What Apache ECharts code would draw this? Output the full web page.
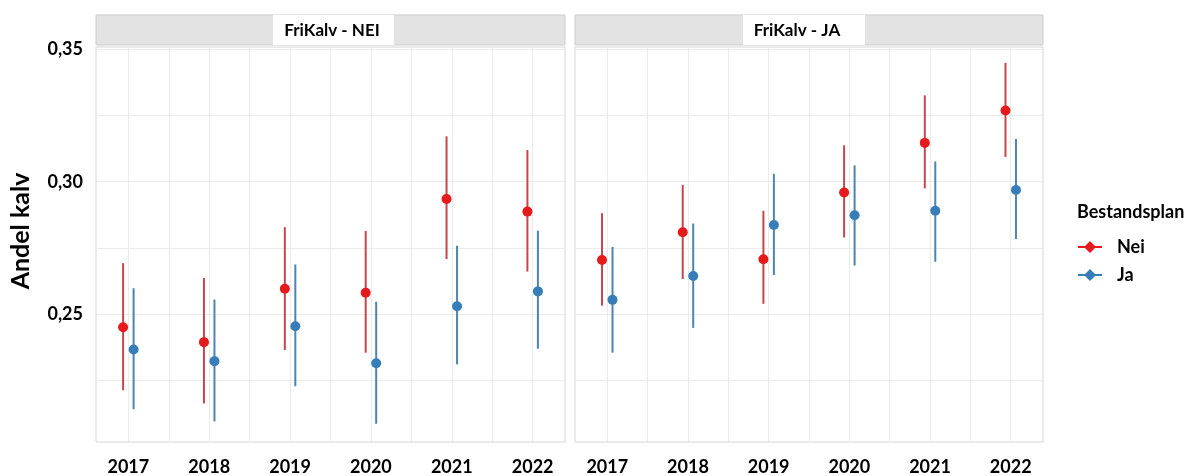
<!DOCTYPE html>
<html>
<head>
<meta charset="utf-8">
<script src="https://cdn.jsdelivr.net/npm/echarts@6/dist/echarts.min.js"></script>
<style>
  html, body { margin: 0; padding: 0; background: #fff; }
  #chart { width: 1190px; height: 476px; }
</style>
</head>
<body>
<div id="chart"></div>
<script>
const years = [2017, 2018, 2019, 2020, 2021, 2022]
const yTicks = [0.225, 0.25, 0.275, 0.3, 0.325, 0.35]
const yLabels = [0.25, 0.3, 0.35]
const panels = ['FriKalv - NEI', 'FriKalv - JA']
const groups = ['Nei', 'Ja']

// FriKalv - NEI
const neiNeiEst = [0.2449, 0.2393, 0.2595, 0.2580, 0.2935, 0.2887]
const neiNeiLow = [0.2211, 0.2161, 0.2363, 0.2353, 0.2707, 0.2660]
const neiNeiHigh = [0.2692, 0.2636, 0.2828, 0.2814, 0.3172, 0.3120]
const neiJaEst = [0.2365, 0.2321, 0.2453, 0.2313, 0.2529, 0.2585]
const neiJaLow = [0.2139, 0.2093, 0.2226, 0.2084, 0.2309, 0.2368]
const neiJaHigh = [0.2597, 0.2554, 0.2687, 0.2546, 0.2758, 0.2815]

// FriKalv - JA
const jaNeiEst = [0.2704, 0.2809, 0.2707, 0.2959, 0.3147, 0.3270]
const jaNeiLow = [0.2531, 0.2632, 0.2538, 0.2789, 0.2975, 0.3094]
const jaNeiHigh = [0.2881, 0.2988, 0.2890, 0.3138, 0.3327, 0.3450]
const jaJaEst = [0.2553, 0.2643, 0.2836, 0.2873, 0.2890, 0.2969]
const jaJaLow = [0.2353, 0.2447, 0.2647, 0.2683, 0.2697, 0.2783]
const jaJaHigh = [0.2753, 0.2842, 0.3030, 0.3062, 0.3077, 0.3162]

const FONT = 'Lato, "Open Sans", sans-serif'
const pointColors = { Nei: '#e41a1c', Ja: '#377eb8' }
const barColors = { Nei: '#c4474b', Ja: '#4c84b2' }
const dodge = { Nei: -0.065, Ja: 0.065 }
const legendIcon = 'path://M0,9 H7 L12,4 L17,9 H24 V11 H17 L12,16 L7,11 H0 Z'

const panelData = [
  { Nei: [neiNeiEst, neiNeiLow, neiNeiHigh], Ja: [neiJaEst, neiJaLow, neiJaHigh] },
  { Nei: [jaNeiEst, jaNeiLow, jaNeiHigh], Ja: [jaJaEst, jaJaLow, jaJaHigh] }
]

// gridlines at every year and half year
const xGrid = []
years.forEach(y => { xGrid.push(y - 0.5); xGrid.push(y) })

const grids = [
  { left: 96, width: 469, top: 47, height: 396 },
  { left: 575, width: 468, top: 47, height: 396 }
]

let xAxes = [], yAxes = [], series = [], graphics = []

grids.forEach((g, i) => {
  xAxes.push({
    type: 'value', gridIndex: i, min: 2016.6, max: 2022.4,
    axisLine: { show: false },
    axisTick: { show: false, customValues: xGrid },
    splitLine: { show: true, lineStyle: { color: '#ebebeb', width: 1 } },
    axisLabel: {
      customValues: years, margin: 16, color: '#000',
      fontFamily: FONT, fontWeight: 'bold', fontSize: 18,
      formatter: v => String(v)
    }
  })
  yAxes.push({
    type: 'value', gridIndex: i, min: 0.2015, max: 0.351,
    axisLine: { show: false },
    axisTick: { show: false, customValues: yTicks },
    splitLine: { show: true, lineStyle: { color: '#ebebeb', width: 1 } },
    axisLabel: {
      show: i === 0, customValues: yLabels, margin: 13, color: '#000',
      fontFamily: FONT, fontWeight: 'bold', fontSize: 18,
      formatter: v => v.toFixed(2).replace('.', ',')
    }
  })

  groups.forEach(name => {
    let [est, low, high] = panelData[i][name]
    series.push({
      name: name, type: 'scatter', xAxisIndex: i, yAxisIndex: i,
      symbol: 'circle', symbolSize: 10, z: 5,
      itemStyle: { color: pointColors[name], opacity: 1 },
      data: years.map((y, k) => [y + dodge[name], est[k]])
    })
  })
  groups.forEach(name => {
    let [est, low, high] = panelData[i][name]
    series.push({
      name: name, type: 'custom', xAxisIndex: i, yAxisIndex: i, z: 3,
      encode: { x: 0, y: [1, 2] },
      data: years.map((y, k) => [y + dodge[name], low[k], high[k]]),
      renderItem: (params, api) => {
        let p1 = api.coord([api.value(0), api.value(1)])
        let p2 = api.coord([api.value(0), api.value(2)])
        return {
          type: 'line',
          shape: { x1: p1[0], y1: p1[1], x2: p2[0], y2: p2[1] },
          style: { stroke: barColors[name], lineWidth: 2 }
        }
      }
    })
  })

  // facet strip
  graphics.push({
    type: 'rect', shape: { x: g.left, y: 15, width: g.width, height: 30 },
    style: { fill: '#e3e3e3', stroke: '#cdcdcd', lineWidth: 1 }, z: 10
  })
})

// white label boxes on the strips
graphics.push(
  { type: 'rect', shape: { x: 273, y: 15, width: 121, height: 30 }, style: { fill: '#fff' }, z: 11 },
  { type: 'text', x: 332, y: 31, z: 12,
    style: { text: panels[0], textAlign: 'center', textVerticalAlign: 'middle', font: 'bold 17px ' + FONT, fill: '#000' } },
  { type: 'rect', shape: { x: 743, y: 15, width: 122, height: 30 }, style: { fill: '#fff' }, z: 11 },
  { type: 'text', x: 797, y: 31, z: 12,
    style: { text: panels[1], textAlign: 'center', textVerticalAlign: 'middle', font: 'bold 17px ' + FONT, fill: '#000' } },
  { type: 'text', x: 21, y: 231, rotation: Math.PI / 2, z: 12,
    style: { text: 'Andel kalv', textAlign: 'center', textVerticalAlign: 'middle', font: 'bold 25px ' + FONT, fill: '#000' } },
  { type: 'text', x: 1077, y: 212, z: 12,
    style: { text: 'Bestandsplan', textAlign: 'left', textVerticalAlign: 'middle', font: 'bold 18px ' + FONT, fill: '#000' } }
)

const chart = echarts.init(document.getElementById('chart'))
chart.setOption({
  animation: false,
  backgroundColor: '#fff',
  grid: grids.map(g => Object.assign({
    show: true, backgroundColor: '#fff', borderColor: '#d6d6d6', borderWidth: 1
  }, g)),
  xAxis: xAxes,
  yAxis: yAxes,
  legend: {
    orient: 'vertical', left: 1073, top: 233,
    itemWidth: 24, itemHeight: 12, itemGap: 10,
    data: groups.map(n => ({ name: n, icon: legendIcon })),
    formatter: n => '{t|' + n + '}',
    textStyle: {
      rich: { t: { fontFamily: FONT, fontWeight: 'bold', fontSize: 18, color: '#000', padding: [0, 0, 0, 10] } }
    }
  },
  graphic: graphics,
  series: series
})
</script>
</body>
</html>
